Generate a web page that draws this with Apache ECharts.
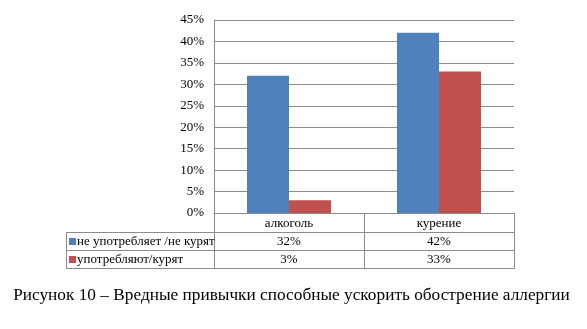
<!DOCTYPE html>
<html>
<head>
<meta charset="utf-8">
<script src="https://cdn.jsdelivr.net/npm/echarts@6/dist/echarts.min.js"></script>
<style>
  html, body { margin: 0; padding: 0; background: #fff; }
  #chart { width: 587px; height: 329px; }
</style>
</head>
<body>
<div id="chart"></div>
<script>
// Habits and share of respondents (percent)
const categories = ['алкоголь', 'курение'];
const seriesNames = ['не употребляет /не курят', 'употребляют/курят'];
const notUsing = [32, 42];
const using = [3, 33];
const seriesColors = ['#4F81BD', '#C0504D'];
const caption = 'Рисунок 10 – Вредные привычки способные ускорить обострение аллергии';

const FONT = '"Liberation Serif", "Times New Roman", serif';
const LINE = '#8c8c8c';
const gridBox = { left: 214, top: 20, right: 514, bottom: 213 };

const chart = echarts.init(document.getElementById('chart'), null, { renderer: 'canvas' });

const option = {
  animation: false,
  grid: { left: gridBox.left, top: gridBox.top, width: gridBox.right - gridBox.left, height: gridBox.bottom - gridBox.top, containLabel: false },
  xAxis: {
    type: 'category',
    data: categories,
    axisLine: { show: true, lineStyle: { color: LINE, width: 1 } },
    axisTick: { show: false },
    axisLabel: { show: false },
    splitLine: { show: false }
  },
  yAxis: {
    type: 'value',
    min: 0, max: 45, interval: 5,
    axisLine: { show: true, lineStyle: { color: LINE, width: 1 } },
    axisTick: { show: false },
    axisLabel: { formatter: '{value}%', fontFamily: FONT, fontSize: 13, color: '#000', margin: 10 },
    splitLine: { show: true, lineStyle: { color: LINE, width: 1 } }
  },
  series: [
    { name: seriesNames[0], type: 'bar', data: notUsing, itemStyle: { color: seriesColors[0] }, barGap: '0%', barCategoryGap: '44%' },
    { name: seriesNames[1], type: 'bar', data: using, itemStyle: { color: seriesColors[1] }, barGap: '0%', barCategoryGap: '44%' }
  ]
};
chart.setOption(option);

// Data table below the category axis
function buildTable() {
  const els = [];
  const tableLeft = 66;
  const rowY = [gridBox.bottom, 232, 250, 268];
  const colX = categories.map((c, i) => chart.convertToPixel({ xAxisIndex: 0 }, i));
  const bandW = (gridBox.right - gridBox.left) / categories.length;
  const line = (x1, y1, x2, y2) => els.push({
    type: 'line', silent: true,
    shape: { x1, y1, x2, y2 },
    style: { stroke: LINE, lineWidth: 1 }
  });
  // vertical separators
  line(gridBox.left + 0.5, gridBox.bottom, gridBox.left + 0.5, rowY[3]);
  categories.forEach((c, i) => {
    const xr = Math.round(colX[i] + bandW / 2) + 0.5;
    line(xr, gridBox.bottom, xr, rowY[3]);
  });
  line(tableLeft + 0.5, rowY[1], tableLeft + 0.5, rowY[3]);
  // horizontal rules
  for (let r = 1; r < rowY.length; r++) line(tableLeft, rowY[r] + 0.5, gridBox.right + 1, rowY[r] + 0.5);

  // category header
  categories.forEach((c, i) => els.push({
    type: 'text', silent: true,
    style: { text: c, x: colX[i], y: (rowY[0] + rowY[1]) / 2 + 1, align: 'center', verticalAlign: 'middle', font: '13px ' + FONT, fill: '#000' }
  }));

  // series rows
  const rows = [notUsing, using];
  rows.forEach((vals, r) => {
    const cy = (rowY[r + 1] + rowY[r + 2]) / 2 + 1;
    els.push({ type: 'rect', silent: true, shape: { x: 69, y: cy - 4, width: 7, height: 7 }, style: { fill: seriesColors[r] } });
    els.push({ type: 'text', silent: true, style: { text: seriesNames[r], x: 77, y: cy, align: 'left', verticalAlign: 'middle', font: '13px ' + FONT, fill: '#000' } });
    vals.forEach((v, i) => els.push({
      type: 'text', silent: true,
      style: { text: v + '%', x: colX[i], y: cy, align: 'center', verticalAlign: 'middle', font: '13px ' + FONT, fill: '#000' }
    }));
  });

  // figure caption
  els.push({ type: 'text', silent: true, style: { text: caption, x: 291.5, y: 295, align: 'center', verticalAlign: 'middle', font: '17.3px ' + FONT, fill: '#000' } });
  chart.setOption({ graphic: { elements: els } });
}
buildTable();
</script>
</body>
</html>
